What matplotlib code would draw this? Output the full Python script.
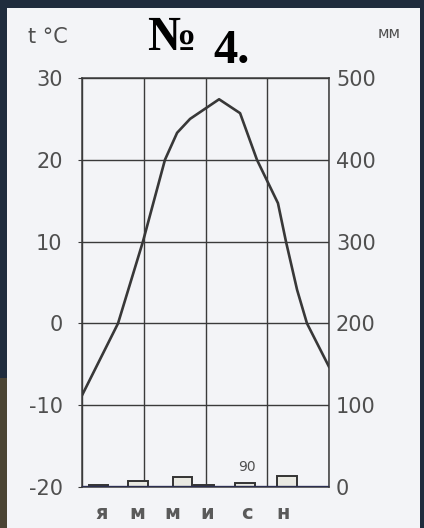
import matplotlib.pyplot as plt
from matplotlib.patches import Rectangle

plt.rcParams['axes.unicode_minus'] = False

W, H = 424, 528

# temperature curve: month position (0 = start of Jan, 12 = end of Dec) and t, °C
temp_months = [0, 1.75, 2.96, 4.03, 4.62, 5.25, 6.66, 7.68, 8.5, 9.52, 9.91, 10.45, 10.93, 12]
temp_values = [-8.8, 0, 10, 20, 23.3, 25.0, 27.4, 25.7, 20, 14.7, 10, 4.1, 0, -5.3]

# precipitation bars, mm
prec_months = [0.8, 2.72, 4.88, 5.93, 7.92, 9.96]
prec_values = [2.5, 7, 12, 2.5, 5, 13]
annual_prec = '90'
annual_pos = (8.02, 24)

month_letters = ['я', 'м', 'м', 'и', 'с', 'н']
letter_months = [0.97, 2.67, 4.37, 6.07, 8.02, 9.77]

temp_ticks = [-20, -10, 0, 10, 20, 30]
prec_ticks = [0, 100, 200, 300, 400, 500]
grid_months = [0, 3, 6, 9, 12]

ink = '#3a3a3a'
txt = '#4f4f4f'


def main():
    fig = plt.figure(figsize=(W / 100, H / 100), dpi=100, facecolor='#1f2c3d')
    # paper sheet over the dark photo
    fig.patches.append(Rectangle((7 / W, 0), 413 / W, 520 / H, transform=fig.transFigure,
                                 facecolor='#f3f4f7', edgecolor='none', zorder=-2))
    fig.patches.append(Rectangle((0, 0), 7 / W, 150 / H, transform=fig.transFigure,
                                 facecolor='#4a4434', edgecolor='none', zorder=-2))

    ax = fig.add_axes([82 / W, 1 - 487 / H, 247 / W, 409 / H])
    ax.set_facecolor('none')
    ax.set_xlim(0, 12)
    ax.set_ylim(-20, 30)
    ax.set_xticks(grid_months)
    ax.set_xticklabels([])
    ax.set_yticks(temp_ticks)
    ax.grid(True, color=ink, linewidth=1.0)
    ax.tick_params(axis='x', length=0)
    ax.tick_params(axis='y', length=3, color=ink, labelsize=15, labelcolor=txt, pad=11)
    for s in ax.spines.values():
        s.set_color(ink)
        s.set_linewidth(1.1)

    ax.plot(temp_months, temp_values, color='#383838', linewidth=1.9)

    ax2 = ax.twinx()
    ax2.set_ylim(0, 500)
    ax2.set_yticks(prec_ticks)
    ax2.tick_params(axis='y', length=0, labelsize=15, labelcolor=txt, pad=5)
    for s in ax2.spines.values():
        s.set_visible(False)
    ax2.bar(prec_months, prec_values, width=0.95, facecolor='#e9e9e2',
            edgecolor='#333333', linewidth=1.4)
    ax2.axhline(0, color='#2b2e52', linewidth=2.4)
    ax2.text(annual_pos[0], annual_pos[1], annual_prec, ha='center', va='center',
             fontsize=10, color=txt)

    for m, s in zip(letter_months, month_letters):
        ax.text(m, -23.2, s, ha='center', va='center', fontsize=14,
                fontweight='bold', color='#5a5a5a')

    fig.text(28 / W, 1 - 43 / H, 't °C', fontsize=15, color=txt, va='baseline')
    fig.text(378 / W, 1 - 38 / H, 'мм', fontsize=11, color=txt, va='baseline')

    fig.text(147 / W, 1 - 50 / H, '№', fontsize=35, family='Liberation Serif',
             fontweight='bold', va='baseline')
    fig.text(213 / W, 1 - 63 / H, '4.', fontsize=35, family='Liberation Serif',
             fontweight='bold', va='baseline')

    fig.savefig('out.png', dpi=100, facecolor=fig.get_facecolor())


if __name__ == "__main__":
    main()
